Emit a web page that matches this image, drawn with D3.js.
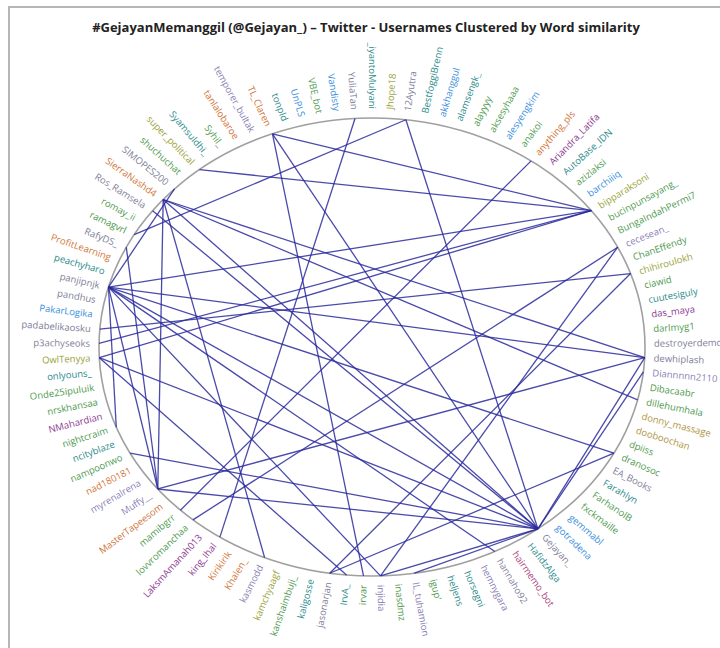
<!DOCTYPE html>
<html><head><meta charset="utf-8">
<script src="https://cdn.jsdelivr.net/npm/d3@7"></script>
<style>body{margin:0;background:#fff}svg{display:block}</style>
</head><body><svg id="c" width="720" height="648"></svg>
<script>
const title = "#GejayanMemanggil (@Gejayan_) \u2013 Twitter - Usernames Clustered by Word similarity";
const users = ["_iyantoMulyani","Jhope18","12Ayutra","BestfoggiBrenn","akkhanggul","alamsengk_","alayyyy","aksesyhaaa","alesyengkim","anakoi","anything_pls","Ariandra_Latifa","AutoBase_IDN","azizlaksi","barchiiiq","bipparaksoni","bucinpunsayang_","BungaIndahPermi7","cecesean_","ChanEffendy","chihiroulokh","ciawid","cuutesiguly","das_maya","darlmyg1","destroyerdemocr","dewhiplash","Diannnnn2110","Dibacaabr","dillehumhala","donny_massage","dooboochan","dpiiss","dranosoc","EA_Books","Farahlyn","FarhanolB","fxckmaille","gemmabl","gotradena","Gejayan_","HafidzAlga","hairmemo_bot","hannaho92","hemnygara","horsegni","heljens","igup'","IL_tuhamion","inasdmz","injidia","irvar","IrvA_","jasonarjan","kaligosse","kanshaimbuji_","kamchyaagf","kasmodd","Khalen_","Kirikirik","king_Ihal","LaksmAmanah013","lovvromanchaa","mamibgrr","MasterTapeesom","Muffy__","myrenalrena","nad180181","nampoonwo","ncityblaze","nightcraim","NMahardian","nrskhansaa","Onde25ipuluik","onlyouns_","OwlTenyya","p3achyseoks","padabelikaosku","PakarLogika","pandhus","panjipnjk","peachyharo","ProfitLearning","RafyDS_","ramagvrl","romay_ii","Ros_Ramsela","SierraNashd4","SIMOPES200","shuchuchat","super_political","Syamsuldhi_","Syhil_","tanlalobaroe","temporer_bultak","TL_Claren","tonpld","UnPLS","VBE_bot","Vandisty","YuliaTan"];
// cluster of each user (colour group)
const clusters = ["teal","olive","gray","teal","blue","teal","green","green","blue","green","orange","purple","teal","green","blue","olive","green","green","lavender","green","olive","green","teal","purple","green","gray","gray","lavender","green","green","gold","gold","green","green","gray","teal","green","green","blue","blue","gray","teal","magenta","gray","lavender","teal","teal","green","lavender","green","lavender","green","teal","gray","teal","green","olive","lavender","orange","orange","purple","purple","green","green","orange","lavender","lavender","orange","green","teal","green","purple","green","green","teal","olive","gray","gray","blue","gray","gray","teal","orange","gray","green","green","gray","orange","gray","green","olive","teal","green","orange","lavender","orange","teal","blue","green","blue","gray"];
const clusterNames = ["teal","olive","gray","blue","green","orange","purple","lavender","gold","magenta"];
const clusterColors = ["#2b8c8c","#9aa23a","#80809a","#3a8fdc","#4f9a4f","#d2763a","#8e3a92","#8a7fb5","#b09444","#a8407e"];
const edgeFrom = ["panjipnjk","panjipnjk","panjipnjk","panjipnjk","panjipnjk","panjipnjk","panjipnjk","panjipnjk","panjipnjk","SierraNashd4","SierraNashd4","SierraNashd4","SierraNashd4","SierraNashd4","super_political","OwlTenyya","p3achyseoks","OwlTenyya","OwlTenyya","Muffy__","Muffy__","dewhiplash","Diannnnn2110","cecesean_","cecesean_","chihiroulokh","anything_pls","padabelikaosku","TL_Claren","TL_Claren","TL_Claren","12Ayutra","12Ayutra","YuliaTan","jasonarjan","RafyDS_","IL_tuhamion","injidia","Gejayan_","Ros_Ramsela"];
const edgeTo   = ["Gejayan_","dewhiplash","dranosoc","injidia","Muffy__","bipparaksoni","hannaho92","SIMOPES200","nightcraim","dewhiplash","dillehumhala","Muffy__","kasmodd","Gejayan_","bipparaksoni","bipparaksoni","bipparaksoni","IrvA_","Gejayan_","dewhiplash","Gejayan_","Gejayan_","Gejayan_","injidia","lovvromanchaa","jasonarjan","mamibgrr","chihiroulokh","irvar","Gejayan_","bipparaksoni","Gejayan_","ramagvrl","king_Ihal","dranosoc","Muffy__","Gejayan_","Gejayan_","nampoonwo","Gejayan_"];

const svg = d3.select("#c");
const cx = 372, cy = 347, rx = 273, ry = 229;
const N = users.length;
const angle = d3.scaleLinear().domain([0, N]).range([0, 2*Math.PI]);
const xS = d3.scaleLinear().domain([-1, 1]).range([cx - rx, cx + rx]);
const yS = d3.scaleLinear().domain([-1, 1]).range([cy - ry, cy + ry]);
const color = d3.scaleOrdinal().domain(clusterNames).range(clusterColors);
const idx = new Map(users.map((u, i) => [u, i]));
const px = i => xS(Math.sin(angle(i)));
const py = i => yS(-Math.cos(angle(i)));

svg.append("rect").attr("x", 9).attr("y", 7).attr("width", 740).attr("height", 680)
  .attr("fill", "#fff").attr("stroke", "#b5b5b5").attr("stroke-width", 2);

svg.append("text").attr("x", 366).attr("y", 32).attr("text-anchor", "middle")
  .attr("font-family", "Open Sans, sans-serif").attr("font-weight", "bold")
  .attr("font-size", 13).attr("fill", "#222").text(title);

svg.append("ellipse").attr("cx", xS(0)).attr("cy", yS(0)).attr("rx", xS(1) - xS(0)).attr("ry", yS(1) - yS(0))
  .attr("fill", "none").attr("stroke", "#a0a0a0").attr("stroke-width", 1.6);

const edges = edgeFrom.map((s, k) => [idx.get(s), idx.get(edgeTo[k])]);
svg.append("g").selectAll("line").data(edges).join("line")
  .attr("x1", d => px(d[0])).attr("y1", d => py(d[0]))
  .attr("x2", d => px(d[1])).attr("y2", d => py(d[1]))
  .attr("stroke", "#2a2a9c").attr("stroke-opacity", 0.85).attr("stroke-width", 1.3);

svg.append("g").selectAll("text").data(users).join("text")
  .attr("font-family", "Open Sans, sans-serif").attr("font-size", 9.5)
  .attr("fill", (d, i) => color(clusters[i])).attr("dominant-baseline", "central")
  .each(function(d, i) {
    const x = px(i), y = py(i);
    const phi = Math.atan2(y - cy, x - cx) * 180 / Math.PI;
    const right = phi > -90 && phi <= 90;
    const off = 9;
    const lx = x + off * Math.cos(phi * Math.PI / 180), ly = y + off * Math.sin(phi * Math.PI / 180);
    d3.select(this).attr("text-anchor", right ? "start" : "end")
      .attr("transform", `translate(${lx},${ly}) rotate(${right ? phi : phi + 180})`);
  })
  .text(d => d);
</script></body></html>
